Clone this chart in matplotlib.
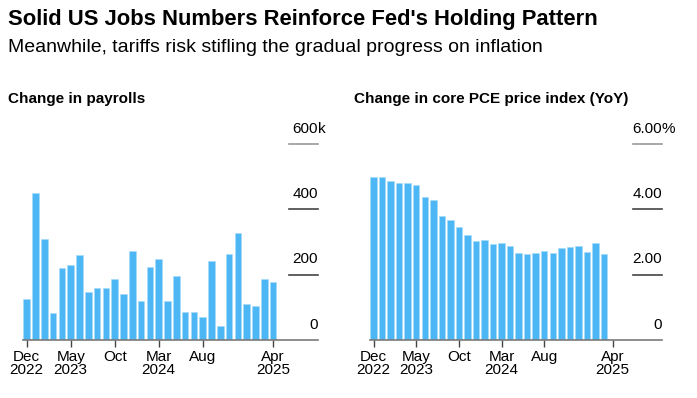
import matplotlib.pyplot as plt

plt.rcParams['font.family'] = ['Liberation Sans', 'DejaVu Sans']

months = ['Dec 2022', 'Jan 2023', 'Feb 2023', 'Mar 2023', 'Apr 2023', 'May 2023',
          'Jun 2023', 'Jul 2023', 'Aug 2023', 'Sep 2023', 'Oct 2023', 'Nov 2023',
          'Dec 2023', 'Jan 2024', 'Feb 2024', 'Mar 2024', 'Apr 2024', 'May 2024',
          'Jun 2024', 'Jul 2024', 'Aug 2024', 'Sep 2024', 'Oct 2024', 'Nov 2024',
          'Dec 2024', 'Jan 2025', 'Feb 2025', 'Mar 2025', 'Apr 2025']

# thousands of jobs, Dec 2022 .. Apr 2025
payrolls = [127, 450, 309, 84, 219, 229, 260, 148, 158, 159, 188, 141,
            272, 120, 225, 248, 119, 195, 87, 87, 71, 242, 43, 264,
            328, 111, 103, 187, 178]

# core PCE YoY %, Dec 2022 .. Mar 2025
core_pce = [4.98, 4.98, 4.88, 4.80, 4.80, 4.73, 4.39, 4.30, 3.80, 3.67, 3.45, 3.22,
            3.04, 3.06, 2.94, 2.98, 2.88, 2.67, 2.63, 2.67, 2.73, 2.67, 2.82, 2.84,
            2.87, 2.70, 2.97, 2.64]

tick_idx = [0, 5, 10, 15, 20, 28]
tick_labels = ['Dec\n2022', 'May\n2023', 'Oct', 'Mar\n2024', 'Aug', 'Apr\n2025']

left_ticks = [0, 200, 400, 600]
left_tick_labels = ['0', '200', '400', '600']
left_unit = 'k'
right_ticks = [0, 2, 4, 6]
right_tick_labels = ['0', '2.00', '4.00', '6.00']
right_unit = '%'

bar_color = '#4db6f4'
edge_color = '#a6dbfa'

W, H = 697, 398
fig = plt.figure(figsize=(W / 100, H / 100), dpi=100)

fig.text(8 / W, 1 - 25 / H, "Solid US Jobs Numbers Reinforce Fed's Holding Pattern",
         fontsize=15.8, fontweight='bold', va='baseline', ha='left')
fig.text(8 / W, 1 - 52 / H, "Meanwhile, tariffs risk stifling the gradual progress on inflation",
         fontsize=14, va='baseline', ha='left')
fig.text(8 / W, 1 - 99 / H, "Change in payrolls", fontsize=11, fontweight='bold',
         va='center', ha='left')
fig.text(354 / W, 1 - 99 / H, "Change in core PCE price index (YoY)", fontsize=11,
         fontweight='bold', va='center', ha='left')


def panel(x0, x1, values, xmax, yticks, ylabels, unit, ymax):
    ax = fig.add_axes([x0 / W, 1 - 340 / H, (x1 - x0) / W, 196 / H])
    ax.bar(range(len(values)), values, width=0.76, color=bar_color,
           edgecolor=edge_color, linewidth=0.5)
    ax.set_xlim(-0.42, xmax)
    ax.set_ylim(0, ymax)
    for s in ['top', 'right', 'left']:
        ax.spines[s].set_visible(False)
    ax.spines['bottom'].set_color('#7a7a7a')
    ax.spines['bottom'].set_linewidth(1.2)
    ax.set_yticks([])
    ax.set_xticks(tick_idx)
    ax.set_xticklabels(tick_labels, fontsize=11, linespacing=0.95)
    ax.tick_params(axis='x', length=5, width=1, color='#444444', pad=2)
    trans = ax.get_yaxis_transform()
    for v, lab in zip(yticks, ylabels):
        if v > 0:
            col = '#999999' if v == yticks[-1] else '#444444'
            ax.plot([0.9, 1.0], [v, v], transform=trans,
                    color=col, lw=1.2, clip_on=False)
        ax.annotate(lab, xy=(1.0, v), xycoords=trans,
                    xytext=(0, 6), textcoords='offset points',
                    ha='right', va='bottom', fontsize=11)
        if v == yticks[-1]:
            ax.annotate(unit, xy=(1.0, v), xycoords=trans,
                        xytext=(0, 6), textcoords='offset points',
                        ha='left', va='bottom', fontsize=11)
    return ax


panel(23, 318, payrolls, 33.1, left_ticks, left_tick_labels, left_unit, 600)
panel(370, 662, core_pce, 33.8, right_ticks, right_tick_labels, right_unit, 6)

fig.savefig('out.png', dpi=100)
